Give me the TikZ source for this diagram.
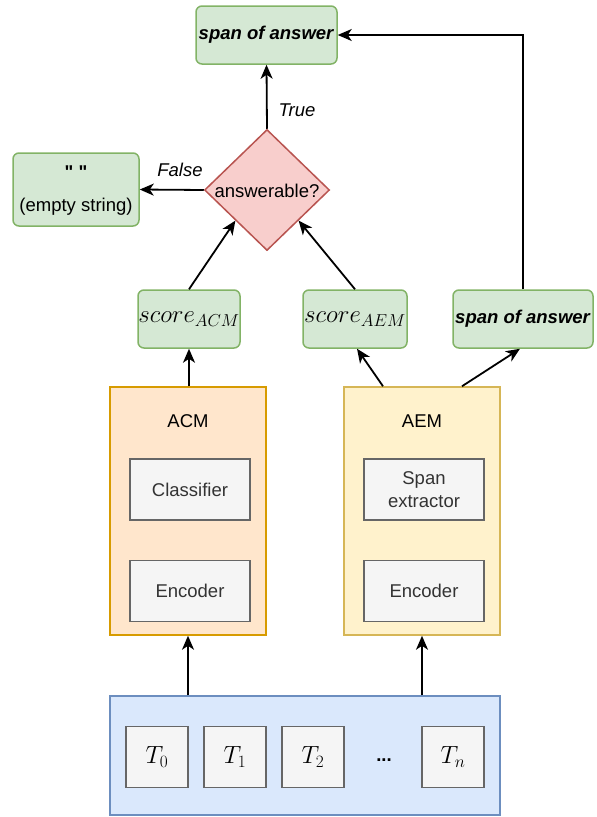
\documentclass[tikz,border=0pt]{standalone}
\usepackage{fontspec}
\setmainfont{Liberation Sans}
\newfontfamily\qfont{Liberation Sans}
\usetikzlibrary{shapes.geometric,arrows.meta,calc}
\definecolor{gfill}{HTML}{D5E8D4}\definecolor{gline}{HTML}{82B366}
\definecolor{rfill}{HTML}{F8CECC}\definecolor{rline}{HTML}{B85450}
\definecolor{ofill}{HTML}{FFE6CC}\definecolor{oline}{HTML}{D79B00}
\definecolor{yfill}{HTML}{FFF2CC}\definecolor{yline}{HTML}{D6B656}
\definecolor{kfill}{HTML}{F5F5F5}\definecolor{kline}{HTML}{666666}
\definecolor{bfill}{HTML}{DAE8FC}\definecolor{bline}{HTML}{6C8EBF}
\definecolor{ktext}{HTML}{333333}
\tikzset{
  base/.style={inner sep=0pt, line width=1.5pt, align=center, font=\fontsize{18.5}{22}\selectfont},
  gbox/.style={base, draw=gline, fill=gfill, rounded corners=6pt},
  mbox/.style={gbox, font=\fontsize{23}{27}\selectfont},
  kbox/.style={base, draw=kline, fill=kfill, text=ktext, minimum width=120pt, minimum height=61pt},
  tbox/.style={base, draw=kline, fill=kfill, minimum width=62pt, minimum height=61pt, font=\fontsize{23}{27}\selectfont},
  lbl/.style={inner sep=0pt, font=\fontsize{18.5}{22}\selectfont\itshape},
  conn/.style={line width=1.8pt, -{Stealth[length=14pt,width=12pt,inset=4pt]}},
}
\begin{document}
\begin{tikzpicture}[x=1pt,y=-1pt]
\useasboundingbox (0,0) rectangle (597,817);
% nodes
\node[gbox, minimum width=141pt, minimum height=58pt] (top) at (266.5,35) {\textbf{\textit{span of answer}}};
\node[gbox, minimum width=126pt, minimum height=73pt] (empty) at (76,189.5) {};
\node[base, font=\fontsize{18.5}{22}\qfont\bfseries] (q) at (76,172) {" "};
\node[base] (es) at (76,207) {(empty string)};
\node[base, diamond, draw=rline, fill=rfill, minimum width=125pt, minimum height=121pt] (d) at (267,190) {};
\node[base] (dl) at (267,191) {answerable?};
\node[mbox, minimum width=102pt, minimum height=58pt] (sacm) at (189,319) {$score_{ACM}$};
\node[mbox, minimum width=104pt, minimum height=58pt] (saem) at (355,319) {$score_{AEM}$};
\node[gbox, minimum width=140pt, minimum height=58pt] (spanr) at (523,319) {\textbf{\textit{span of answer}}};
\node[base, draw=oline, fill=ofill, minimum width=156pt, minimum height=248pt] (acm) at (188,511) {};
\node[base] (acml) at (188,421) {ACM};
\node[kbox] (cls) at (190,489.5) {Classifier};
\node[kbox] (enca) at (190,591) {Encoder};
\node[base, draw=yline, fill=yfill, minimum width=156pt, minimum height=248pt] (aem) at (422,511) {};
\node[base] (aeml) at (422,421) {AEM};
\node[kbox, font=\fontsize{18.5}{23}\selectfont] (spx) at (424,489.5) {Span\\extractor};
\node[kbox] (ence) at (424,591) {Encoder};
\node[base, draw=bline, fill=bfill, minimum width=390pt, minimum height=119pt] (inp) at (305,755.5) {};
\node[tbox] (t0) at (157,757) {$T_0$};
\node[tbox] (t1) at (235,757) {$T_1$};
\node[tbox] (t2) at (313,757) {$T_2$};
\node[base, font=\fontsize{18.5}{22}\selectfont\bfseries] (dots) at (384,760) {...};
\node[tbox] (tn) at (453,757) {$T_n$};
% connectors
\draw[conn] (inp.north -| acm.south) -- (acm.south);
\draw[conn] (inp.north -| aem.south) -- (aem.south);
\draw[conn] (acm.north -| sacm.south) -- (sacm.south);
\draw[conn] ($(aem.north)+(-39,0)$) -- ($(saem.south)+(2,0)$);
\draw[conn] ($(aem.north)+(40,0)$) -- ($(spanr.south)+(-3,0)$);
\draw[conn] (sacm.north) -- ($(d.west)!0.5!(d.south)$);
\draw[conn] (saem.north) -- ($(d.east)!0.5!(d.south)$);
\draw[conn] (d.west) -- (empty.east);
\draw[conn] (d.north) -- (top.south);
\draw[conn] (spanr.north) |- (top.east);
\node[lbl] (tl) at (297,110) {True};
\node[lbl] (fl) at (180,170) {False};
\end{tikzpicture}
\end{document}
